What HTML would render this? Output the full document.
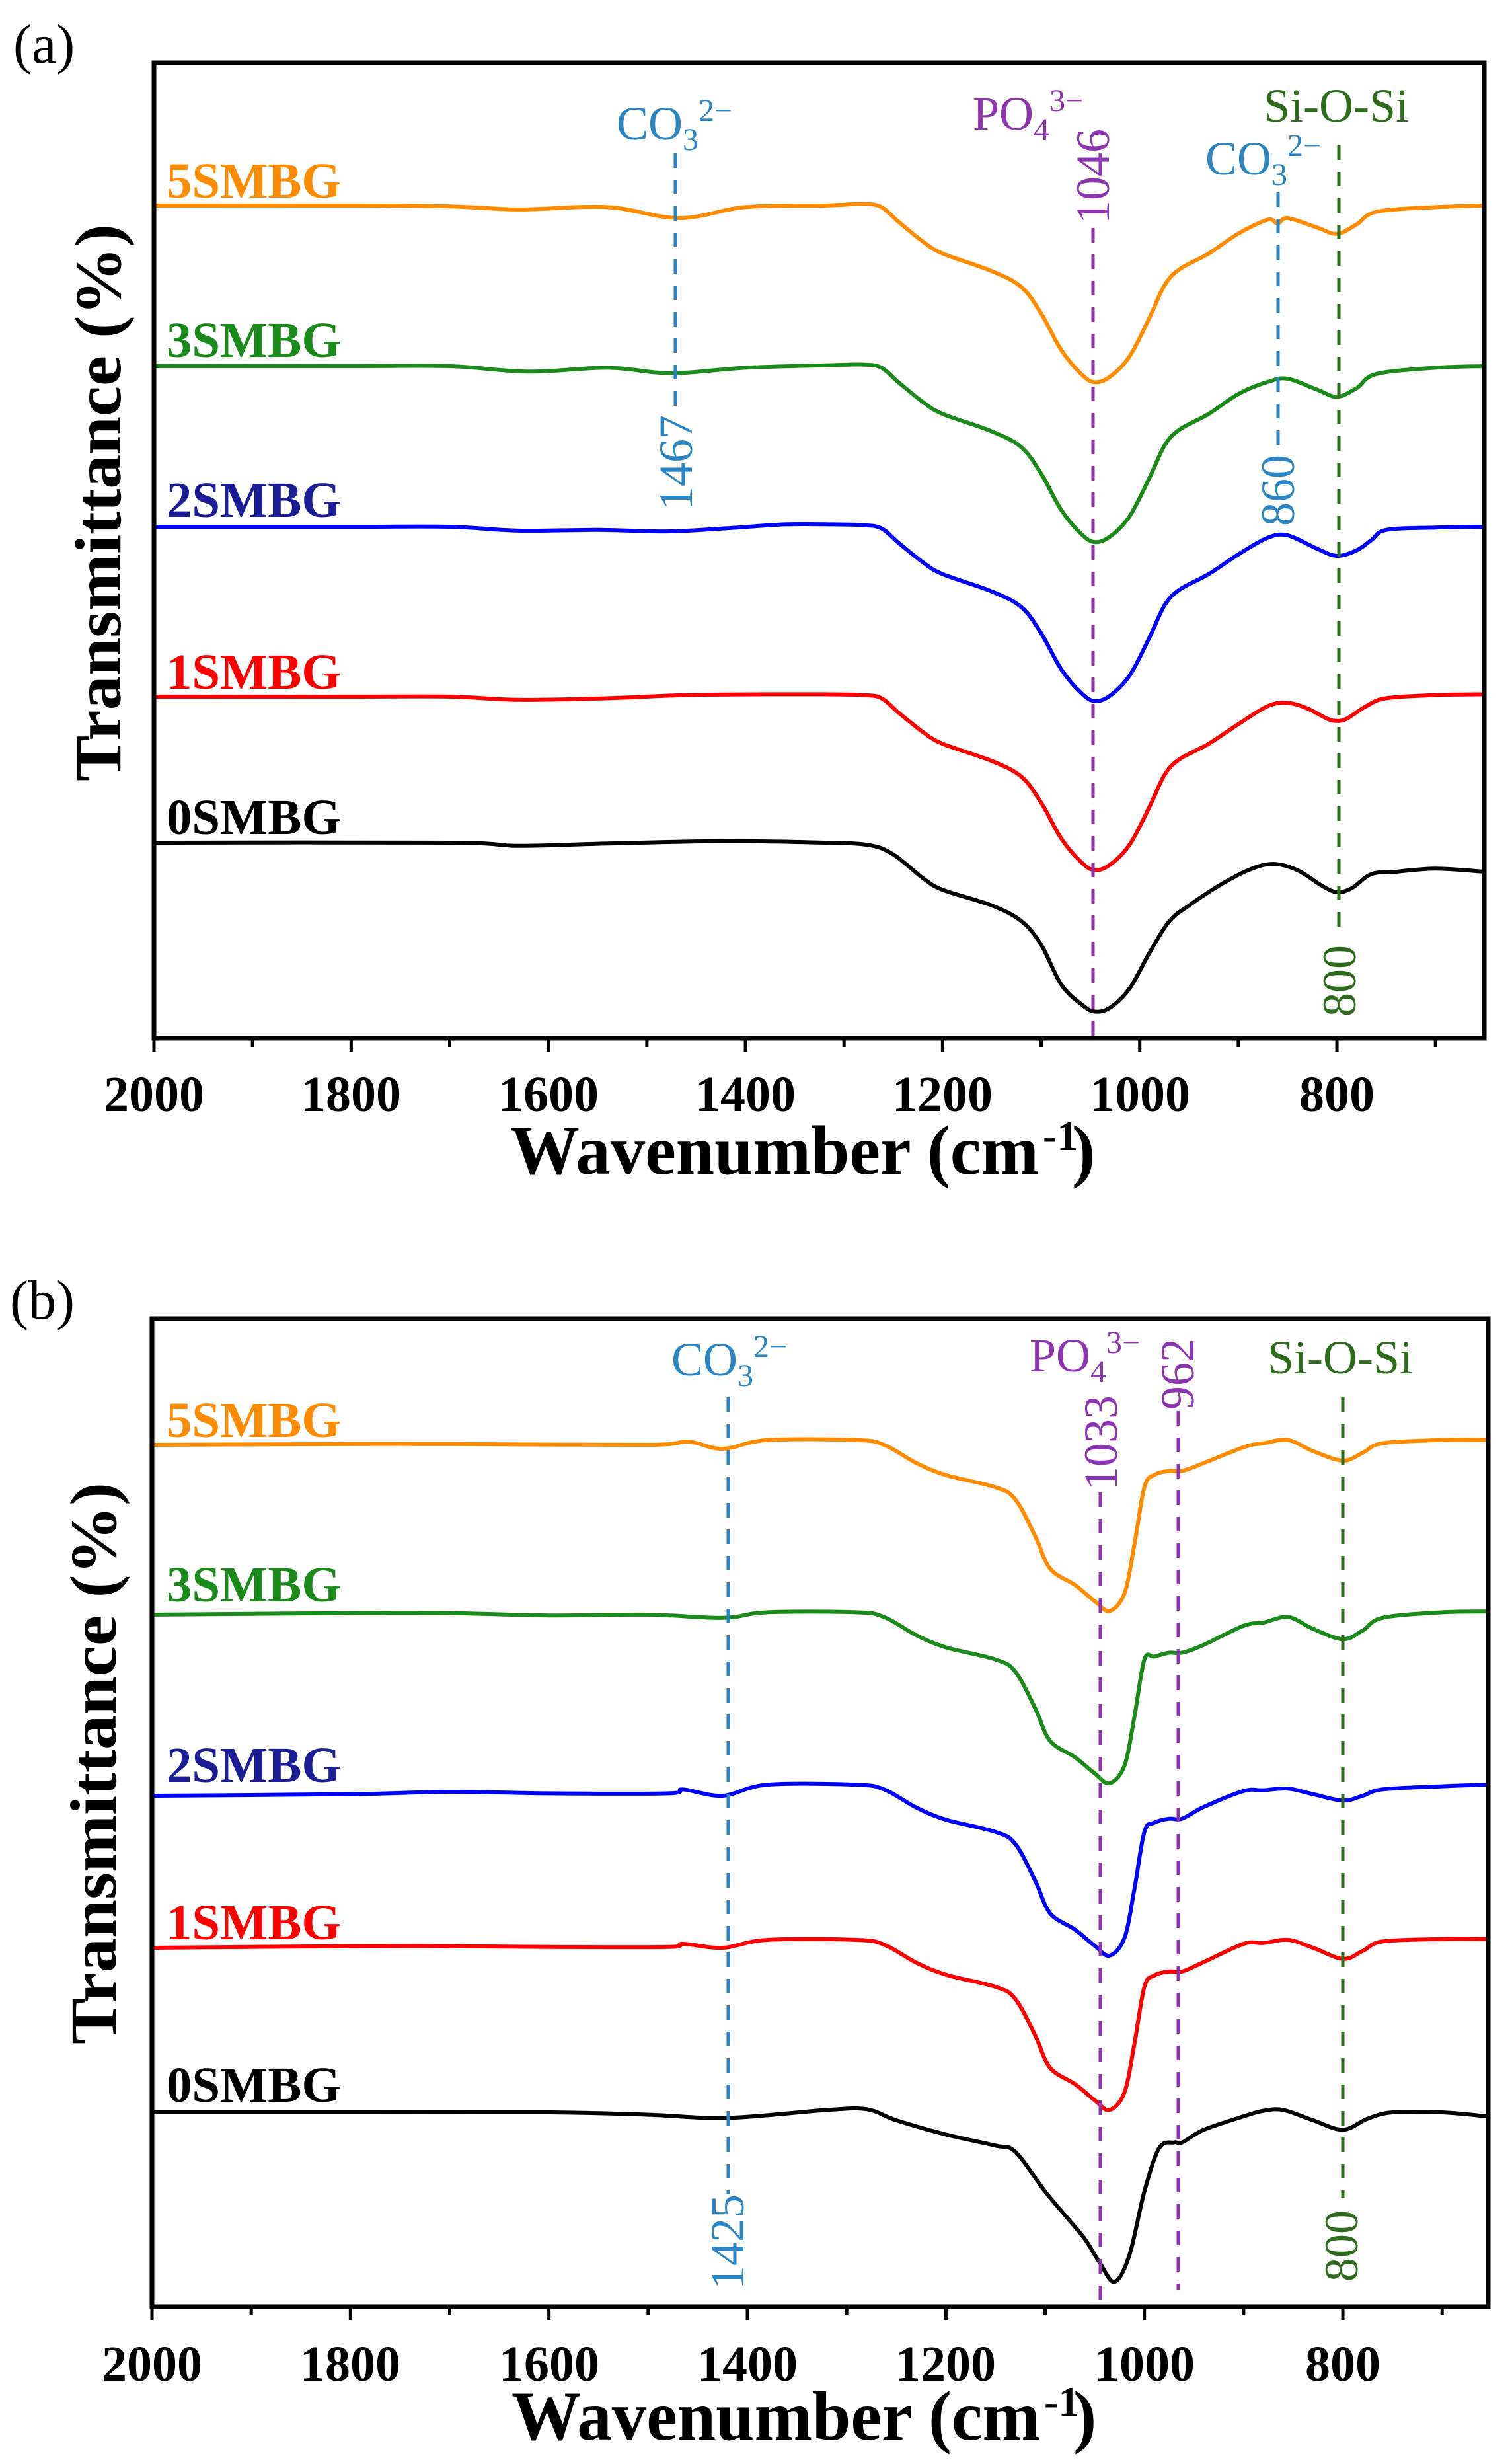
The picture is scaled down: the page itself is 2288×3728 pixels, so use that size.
<!DOCTYPE html>
<html><head><meta charset="utf-8"><style>
html,body{margin:0;padding:0;background:#fff;}
svg{display:block;}
text{font-family:"Liberation Serif",serif;}
.tk{font-size:76px;font-weight:bold;text-anchor:middle;}
.lab{font-size:76px;font-weight:bold;}
.ann{font-size:72px;}
</style></head><body>
<svg id="s" width="2288" height="3728" viewBox="0 0 2288 3728" xmlns="http://www.w3.org/2000/svg">
<rect width="2288" height="3728" fill="#fff"/>
<!-- Panel a -->
<text x="20" y="95" font-size="84">(a)</text>
<g id="ga"></g>
<rect x="233" y="95" width="2013" height="1476" fill="none" stroke="#000" stroke-width="7"/>
<g class="tk">
<text x="233" y="1681">2000</text><text x="531" y="1681">1800</text><text x="830" y="1681">1600</text>
<text x="1128" y="1681">1400</text><text x="1426" y="1681">1200</text><text x="1725" y="1681">1000</text><text x="2023" y="1681">800</text>
</g>
<text x="772" y="1776" font-size="106" font-weight="bold" textLength="800" lengthAdjust="spacingAndGlyphs">Wavenumber (cm</text>
<text x="1578" y="1740" font-size="64" font-weight="bold">-1</text>
<text x="1622" y="1776" font-size="106" font-weight="bold">)</text>
<text transform="translate(182,1182) rotate(-90)" font-size="100" font-weight="bold" textLength="843" lengthAdjust="spacingAndGlyphs">Transmittance (%)</text>
<g class="lab">
<text x="252" y="299" fill="#ff8c00" textLength="264" lengthAdjust="spacingAndGlyphs">5SMBG</text>
<text x="252" y="540" fill="#1a8a1a" textLength="264" lengthAdjust="spacingAndGlyphs">3SMBG</text>
<text x="252" y="782" fill="#1c1c94" textLength="264" lengthAdjust="spacingAndGlyphs">2SMBG</text>
<text x="252" y="1042" fill="#ff0000" textLength="264" lengthAdjust="spacingAndGlyphs">1SMBG</text>
<text x="252" y="1262" fill="#000" textLength="264" lengthAdjust="spacingAndGlyphs">0SMBG</text>
</g>
<g class="ann">
<text x="933" y="211" fill="#2a85c4">CO<tspan dy="16" font-size="48">3</tspan><tspan dy="-44" font-size="48">2−</tspan></text>
<text x="1824" y="264" fill="#2a85c4">CO<tspan dy="16" font-size="48">3</tspan><tspan dy="-44" font-size="48">2−</tspan></text>
<text x="1472" y="196" fill="#8b35b0">PO<tspan dy="16" font-size="48">4</tspan><tspan dy="-44" font-size="48">3−</tspan></text>
<text x="1912" y="184" fill="#2f6b1f">Si-O-Si</text>
<text transform="translate(1047,772) rotate(-90)" fill="#2a85c4">1467</text>
<text transform="translate(1678,339) rotate(-90)" fill="#8b35b0">1046</text>
<text transform="translate(1958,796) rotate(-90)" fill="#2a85c4">860</text>
<text transform="translate(2051,1538) rotate(-90)" fill="#2f6b1f">800</text>
</g>
<!-- Panel b -->
<text x="15" y="1995" font-size="84">(b)</text>
<g id="gb"></g>
<rect x="230" y="1995" width="2022" height="1495" fill="none" stroke="#000" stroke-width="7"/>
<g class="tk">
<text x="230" y="3602">2000</text><text x="530" y="3602">1800</text><text x="831" y="3602">1600</text>
<text x="1131" y="3602">1400</text><text x="1431" y="3602">1200</text><text x="1732" y="3602">1000</text><text x="2032" y="3602">800</text>
</g>
<text x="774" y="3691" font-size="106" font-weight="bold" textLength="800" lengthAdjust="spacingAndGlyphs">Wavenumber (cm</text>
<text x="1580" y="3655" font-size="64" font-weight="bold">-1</text>
<text x="1624" y="3691" font-size="106" font-weight="bold">)</text>
<text transform="translate(175,3093) rotate(-90)" font-size="100" font-weight="bold" textLength="850" lengthAdjust="spacingAndGlyphs">Transmittance (%)</text>
<g class="lab">
<text x="252" y="2174" fill="#ff8c00" textLength="264" lengthAdjust="spacingAndGlyphs">5SMBG</text>
<text x="252" y="2423" fill="#1a8a1a" textLength="264" lengthAdjust="spacingAndGlyphs">3SMBG</text>
<text x="252" y="2696" fill="#1c1c94" textLength="264" lengthAdjust="spacingAndGlyphs">2SMBG</text>
<text x="252" y="2934" fill="#ff0000" textLength="264" lengthAdjust="spacingAndGlyphs">1SMBG</text>
<text x="252" y="3180" fill="#000" textLength="264" lengthAdjust="spacingAndGlyphs">0SMBG</text>
</g>
<g class="ann">
<text x="1016" y="2081" fill="#2a85c4">CO<tspan dy="16" font-size="48">3</tspan><tspan dy="-44" font-size="48">2−</tspan></text>
<text x="1558" y="2075" fill="#8b35b0">PO<tspan dy="16" font-size="48">4</tspan><tspan dy="-44" font-size="48">3−</tspan></text>
<text x="1918" y="2078" fill="#2f6b1f">Si-O-Si</text>
<text transform="translate(1125,3464) rotate(-90)" fill="#2a85c4">1425</text>
<text transform="translate(1690,2255) rotate(-90)" fill="#8b35b0">1033</text>
<text transform="translate(1806,2133) rotate(-90)" fill="#8b35b0">962</text>
<text transform="translate(2054,3452) rotate(-90)" fill="#2f6b1f">800</text>
</g>
</svg>
<script>
(function(){
var NS="http://www.w3.org/2000/svg";
function path(pts){
  var d="M"+pts[0][0].toFixed(1)+","+pts[0][1].toFixed(1);
  for(var i=0;i<pts.length-1;i++){
    var p0=pts[i-1]||pts[i],p1=pts[i],p2=pts[i+1],p3=pts[i+2]||p2;
    var c1x=p1[0]+(p2[0]-p0[0])/6,c1y=p1[1]+(p2[1]-p0[1])/6;
    var c2x=p2[0]-(p3[0]-p1[0])/6,c2y=p2[1]-(p3[1]-p1[1])/6;
    d+="C"+c1x.toFixed(1)+","+c1y.toFixed(1)+" "+c2x.toFixed(1)+","+c2y.toFixed(1)+" "+p2[0].toFixed(1)+","+p2[1].toFixed(1);
  }
  return d;
}
function el(g,tag,attrs){var e=document.createElementNS(NS,tag);for(var k in attrs)e.setAttribute(k,attrs[k]);g.appendChild(e);return e;}
function curve(g,xf,base,sc,pts,col){
  var p=pts.map(function(q){return [xf(q[0]),base+q[1]*sc];});
  el(g,"path",{d:path(p),fill:"none",stroke:col,"stroke-width":6,"stroke-linejoin":"round"});
}
function ticks(g,xf,yb,from,to){
  for(var w=2000;w>=from;w-=100){var x=xf(w);var L=(w%200==0)?20:13;
    el(g,"line",{x1:x,y1:yb,x2:x,y2:yb+L,stroke:"#000","stroke-width":5});}
}
function dash(g,x,y1,y2,col){el(g,"line",{x1:x,y1:y1,x2:x,y2:y2,stroke:col,"stroke-width":5,"stroke-dasharray":"22 18"});}

// Panel a
var ga=document.getElementById("ga");
var xa=function(w){return 233+(2000-w)*1.4917;};
var coreA=[[1280,-2],[1262,2],[1245,20],[1220,45],[1200,60],[1150,82],[1120,102],[1100,135],[1080,180],[1060,210],[1046,221],[1030,214],[1010,188],[990,140],[975,100],[960,80],[930,60],[900,35]];
function ca(depth){return coreA.map(function(q){return [q[0],q[1]*depth/221];});}
var sa=1.188;
var a5=[[2000,0],[1800,0],[1700,1],[1630,5],[1540,2],[1467,16],[1400,2],[1320,0]].concat(ca(225)).concat([[870,18],[860,23],[850,16],[820,28],[800,36],[780,24],[760,8],[700,2],[650,0]]);
var a3=[[2000,0],[1800,0],[1700,0],[1620,7],[1540,2],[1475,9],[1400,2],[1320,-1]].concat(ca(224)).concat([[870,20],[850,16],[820,30],[800,39],[780,28],[760,10],[700,2],[650,0]]);
var a2=[[2000,0],[1800,0],[1700,0],[1630,5],[1550,4],[1480,6],[1420,2],[1360,-3],[1310,-3]].concat(ca(222)).concat([[870,14],[850,11],[820,28],[800,37],[780,30],[765,17],[750,4],[700,1],[650,0]]);
var a1=[[2000,0],[1800,0],[1700,0],[1630,4],[1540,2],[1460,-2],[1380,-3],[1320,-3]].concat(ca(221)).concat([[870,12],[850,8],[830,15],[810,28],[800,31],[790,28],[770,12],[750,2],[700,-2],[650,-3]]);
var a0=[[2000,0],[1700,0],[1630,4],[1540,1],[1420,-2],[1320,0],[1275,3],[1250,15],[1220,45],[1200,60],[1150,80],[1120,100],[1100,130],[1080,180],[1060,205],[1046,215],[1030,210],[1010,185],[990,140],[970,100],[950,80],[920,55],[890,35],[865,27],[840,35],[815,55],[800,63],[785,58],[765,40],[740,37],[700,33],[650,37]];
curve(ga,xa,1275,sa,a0,"#000");
curve(ga,xa,1054,sa,a1,"#ff0000");
curve(ga,xa,797,sa,a2,"#0000ff");
curve(ga,xa,554,sa,a3,"#1a8a1a");
curve(ga,xa,311,sa,a5,"#ff8c00");
ticks(ga,xa,1571,650,2000);
dash(ga,1022,232,618,"#2a85c4");
dash(ga,1654,345,1571,"#8b35b0");
dash(ga,1934,291,677,"#2a85c4");
dash(ga,2026,220,1420,"#2f6b1f");

// Panel b
var gb=document.getElementById("gb");
var xb=function(w){return 230+(2000-w)*1.5017;};
var sb=1.197;
var coreB=[[1262,6],[1230,28],[1200,43],[1150,58],[1130,73],[1110,118],[1095,158],[1070,178],[1050,198],[1035,210],[1020,188],[1010,128],[1000,58],[990,38],[975,33]];
function cb(depth,sh,off){return coreB.map(function(q){var v=q[1]*depth/210+off*(1-q[1]/210);if(q[0]<=990)v=sh+(q[0]==990?5:0);return [q[0],v];});}
var b5=[[2000,0],[1800,-1],[1700,-1],[1500,0],[1460,-4],[1425,5],[1380,-6],[1290,-6]].concat(cb(210,33,-6)).concat([[962,33],[940,23],[900,3],[880,-2],[855,-6],[830,8],[800,20],[780,10],[760,-2],[700,-6],[655,-6]]);
var b3=[[2000,0],[1800,-2],[1700,-2],[1600,1],[1500,0],[1425,4],[1380,-3],[1290,-3]].concat(cb(213,48,-3)).concat([[962,48],[940,38],[900,14],[880,10],[855,3],[830,18],[800,31],[780,20],[760,4],[700,-3],[655,-4]]);
var b2=[[2000,0],[1800,-2],[1700,-5],[1600,-3],[1480,-3],[1465,-8],[1425,0],[1380,-14],[1290,-14]].concat(cb(202,29,-14)).concat([[962,29],[940,14],[900,-6],[880,-7],[855,-9],[830,-2],[800,6],[780,0],[760,-8],[700,-12],[655,-14]]);
var b1=[[2000,0],[1800,-2],[1700,-2],[1600,-1],[1480,-1],[1465,-5],[1425,0],[1380,-10],[1290,-10]].concat(cb(205,30,-10)).concat([[962,30],[940,18],[900,-5],[880,-6],[855,-10],[830,0],[800,14],[780,4],[760,-8],[700,-11],[655,-11]]);
var b0=[[2000,0],[1800,0],[1600,0],[1500,3],[1420,7],[1320,-3],[1280,-4],[1250,10],[1200,28],[1150,42],[1130,50],[1100,100],[1080,130],[1060,160],[1045,190],[1030,214],[1015,180],[1000,100],[985,45],[970,38],[962,38],[940,22],[900,5],[880,-2],[860,-3],[830,10],[800,22],[775,8],[750,0],[700,0],[655,5]];
curve(gb,xb,3196,sb,b0,"#000");
curve(gb,xb,2947,sb,b1,"#ff0000");
curve(gb,xb,2717,sb,b2,"#0000ff");
curve(gb,xb,2443,sb,b3,"#1a8a1a");
curve(gb,xb,2186,sb,b5,"#ff8c00");
ticks(gb,xb,3490,655,2000);
dash(gb,1102,2114,3320,"#2a85c4");
dash(gb,1665,2258,3490,"#8b35b0");
dash(gb,1783,2135,3464,"#8b35b0");
dash(gb,2032,2114,3326,"#2f6b1f");
})();
</script>
</body></html>
